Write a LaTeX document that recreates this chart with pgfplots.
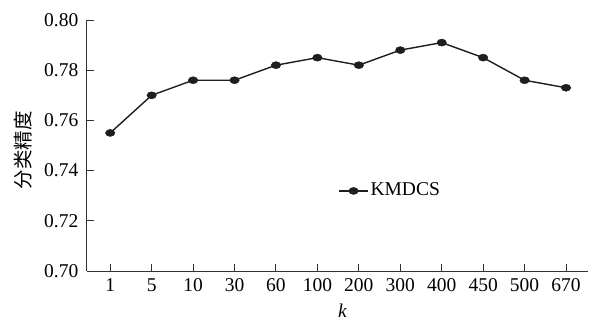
\documentclass[border=0pt]{standalone}
\usepackage{fontspec}
\setmainfont{Liberation Serif}
\newfontfamily\cjk{Noto Sans CJK SC}
\usepackage{pgfplots}
\pgfplotsset{compat=1.18}
\definecolor{ln}{HTML}{1E1E1E}
\definecolor{ax}{HTML}{333333}
\begin{document}
\fontsize{19.5}{22}\selectfont
\begin{tikzpicture}
\begin{axis}[
  name=ax,
  scale only axis,
  width=501pt, height=251pt,
  xmin=-0.56, xmax=11.53,
  ymin=0.70, ymax=0.80,
  axis x line*=bottom, axis y line*=left,
  axis line style={ax, line width=1pt, -},
  tick style={ax, line width=1pt},
  tick align=inside,
  major tick length=7pt,
  xtick={0,...,11},
  xticklabels={1,5,10,30,60,100,200,300,400,450,500,670},
  ytick={0.70,0.72,...,0.801},
  yticklabel style={xshift=-2pt, /pgf/number format/.cd, fixed, fixed zerofill, precision=2},
  /pgf/number format/assume math mode=true,
  ticklabel style={font=\fontsize{19.5}{22}\selectfont},
  xticklabel style={yshift=-1pt},
  xlabel={\textit{k}},
  ylabel={{\cjk 分类精度}},
  label style={font=\fontsize{19.5}{22}\selectfont},
  xlabel style={at={(axis description cs:0.51,0)}, anchor=center, yshift=-40pt},
  ylabel style={at={(axis description cs:0,0.482)}, anchor=center, yshift=64pt},
  legend style={draw=none, fill=none, at={(0.496,0.319)}, anchor=west, font=\fontsize{19.5}{22}\selectfont},
  legend image code/.code={\draw[mark repeat=2,mark phase=2] plot coordinates {(-10pt,0cm) (4.2pt,0cm) (18.45pt,0cm)};},
  clip=false,
]
\addplot[ln, line width=1.4pt, mark=*, mark size=3.5pt, mark options={fill=ln, xscale=1.35, line width=0.5pt}]
  coordinates {(0,0.755) (1,0.770) (2,0.776) (3,0.776) (4,0.782) (5,0.785) (6,0.782) (7,0.788) (8,0.791) (9,0.785) (10,0.776) (11,0.773)};
\addlegendentry{KMDCS}
\end{axis}
\pgfresetboundingbox
\path ([xshift=-87pt,yshift=-51pt]ax.south west) rectangle ([xshift=3pt,yshift=20pt]ax.north east);
\end{tikzpicture}
\end{document}
